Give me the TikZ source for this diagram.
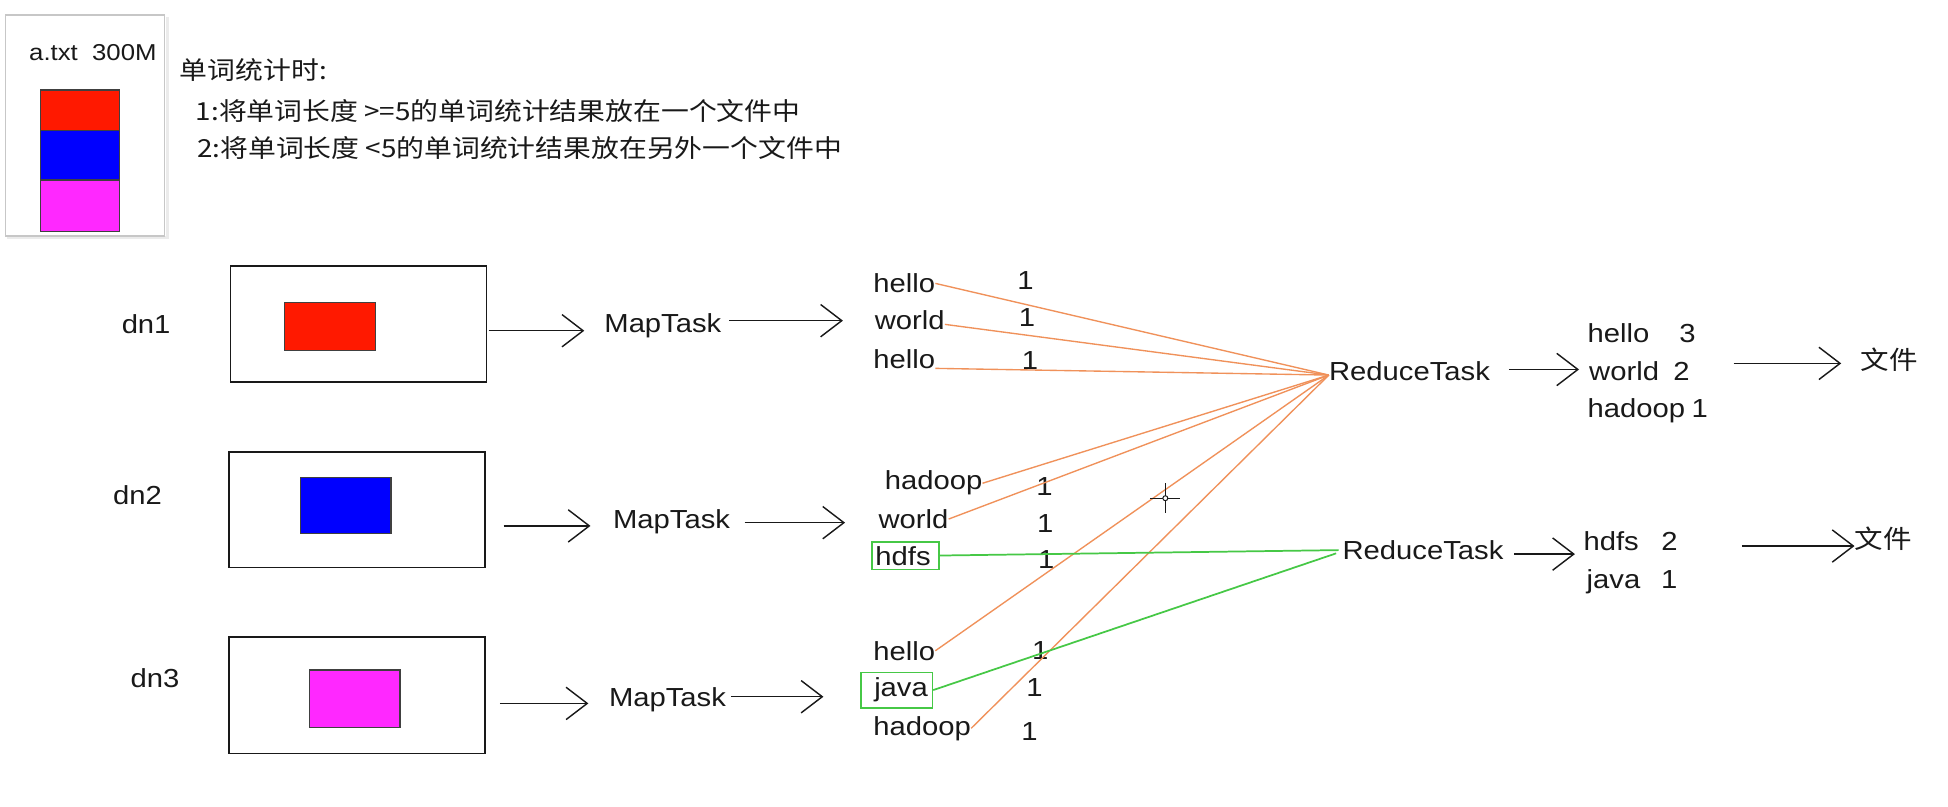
\documentclass[tikz,border=0pt]{standalone}
\usepackage{fontspec}
\setmainfont{Liberation Sans}[FakeStretch=1.12]
\newfontfamily\cjk{Noto Sans CJK SC}[FakeStretch=1.12]
\usetikzlibrary{arrows.meta}
\definecolor{ink}{RGB}{25,25,25}
\definecolor{org}{RGB}{240,145,90}
\definecolor{grn}{RGB}{70,200,70}
\definecolor{fred}{RGB}{255,25,0}
\definecolor{fblue}{RGB}{0,0,255}
\definecolor{fmag}{RGB}{255,40,255}
\begin{document}
\begin{tikzpicture}[x=1pt,y=-1pt,
  txt/.style={anchor=base west, inner sep=0pt, text=ink, font=\fontsize{21}{25}\selectfont},
  ctxt/.style={anchor=base west, inner sep=0pt, text=ink, font=\cjk\fontsize{20}{24}\selectfont},
  ftxt/.style={anchor=center, inner sep=0pt, text=ink, font=\cjk\fontsize{20.5}{24}\selectfont},
  dnbox/.style={draw=ink, line width=1.4pt, inner sep=0pt},
  blk/.style={draw=black!75, line width=0.9pt},
  arr/.style={draw=ink, line width=1.15pt, -{Straight Barb[length=17pt,width=26pt]}},
  oline/.style={draw=org, line width=1.1pt},
  gline/.style={draw=grn, line width=1.4pt},
  gbox/.style={draw=grn, line width=1.4pt, inner sep=0pt},
]
\useasboundingbox (0,0) rectangle (1568,649);
\fill[white] (0,0) rectangle (1568,649);

% file box
\draw[black!8, line width=2.5pt] (134.5,14) -- (134.5,191.5) -- (6,191.5);
\node[draw=black!22, line width=1pt, minimum width=128.1pt, minimum height=178pt, inner sep=0pt] (file) at (68.65,101) {};
\node[txt, font=\fontsize{18.5}{22}\selectfont] (fname) at (23.3,48.3) {a.txt\ \ 300M};
\filldraw[fill=fred, blk] (32.4,72.4) rectangle (96.1,105.2);
\filldraw[fill=fblue, blk] (32.4,105.2) rectangle (96.1,144.9);
\filldraw[fill=fmag, blk] (32.4,144.9) rectangle (96.1,186);

% description
\node[ctxt] (d0) at (144.6,64) {单词统计时:};
\node[ctxt] (d1) at (157.5,97) {1:将单词长度 >=5的单词统计结果放在一个文件中};
\node[ctxt] (d2) at (158.5,127) {2:将单词长度 <5的单词统计结果放在另外一个文件中};

% data nodes
\node[txt] (dn1) at (97.8,268.3) {dn1};
\node[txt] (dn2) at (90.8,405.7) {dn2};
\node[txt] (dn3) at (105,553.3) {dn3};

\node[dnbox, minimum width=206pt, minimum height=93.5pt] (b1) at (288.6,261) {};
\node[dnbox, minimum width=205.8pt, minimum height=93.1pt] (b2) at (287.3,410.2) {};
\node[dnbox, minimum width=205.8pt, minimum height=93.4pt] (b3) at (287.3,559.7) {};
\filldraw[fill=fred, blk] (229.3,243.6) rectangle (302.2,282.3);
\filldraw[fill=fblue, blk] (241.8,384.2) rectangle (314.7,429.3);
\filldraw[fill=fmag, blk] (249,539.3) rectangle (322,585.7);

% map tasks
\node[txt] (m1) at (486.3,267.8) {MapTask};
\node[txt] (m2) at (493.3,425.3) {MapTask};
\node[txt] (m3) at (490,568.8) {MapTask};

% words
\node[txt] (w11) at (702.8,235.6) {hello};
\node[txt] (n11) at (818.7,233.4) {1};
\node[txt] (w12) at (704,265.6) {world};
\node[txt] (n12) at (820,263) {1};
\node[txt] (w13) at (702.8,296.5) {hello};
\node[txt] (n13) at (822.4,297.3) {1};

\node[txt] (w21) at (712,394.4) {hadoop};
\node[txt] (n21) at (834,398.5) {1};
\node[txt] (w22) at (707,425.3) {world};
\node[txt] (n22) at (834.5,428.8) {1};
\node[txt] (w23) at (704.5,454.8) {hdfs};
\node[txt] (n23) at (835.5,457.5) {1};

\node[txt] (w31) at (702.8,531.3) {hello};
\node[txt] (n31) at (830.5,530.7) {1};
\node[txt] (w32) at (703.5,560.8) {java};
\node[txt] (n32) at (826,560.8) {1};
\node[txt] (w33) at (702.8,591.7) {hadoop};
\node[txt] (n33) at (822,595.7) {1};

\node[gbox, minimum width=54.2pt, minimum height=22.3pt] (hb) at (728.9,447.15) {};
\node[gbox, minimum width=57.7pt, minimum height=28.5pt] (jb) at (721.65,555.45) {};

% reduce tasks
\node[txt] (r1) at (1069.6,306.4) {ReduceTask};
\node[txt] (r2) at (1080.5,450.3) {ReduceTask};
\coordinate (c1) at ([yshift=-3pt]r1.west);
\coordinate (c2a) at ([xshift=-3pt]r2.west);
\coordinate (c2b) at ([xshift=-5pt,yshift=-2.6pt]r2.west);

% results
\node[txt] (o11) at (1277.7,275.8) {hello\hspace{24.1pt}3};
\node[txt] (o12) at (1279,305.9) {world\hspace{11.6pt}2};
\node[txt] (o13) at (1277.7,336.2) {hadoop\hspace{5.2pt}1};
\node[txt] (o21) at (1274.4,442.7) {hdfs\hspace{18.2pt}2};
\node[txt] (o22) at (1277,473.6) {java\hspace{16.8pt}1};

\node[ftxt] (f1) at (1520.9,289.8) {文件};
\node[ftxt] (f2) at (1515.9,434) {文件};
\coordinate (f1e) at ([xshift=-15.7pt,yshift=-2.7pt]f1.west);
\coordinate (f2e) at ([xshift=0pt,yshift=-5.5pt]f2.west);

% arrows
\draw[arr] ([xshift=1pt,yshift=1.6pt]b1.east |- m1.base) -- ([xshift=-16pt,yshift=1.6pt]m1.base west);
\draw[arr] ([xshift=6pt,yshift=9.7pt]m1.base east) -- ([xshift=-24.3pt,yshift=9.7pt]m1.base east -| w11.west);
\draw[arr] ([xshift=14.5pt,yshift=2pt]b2.east |- m2.base) -- ([xshift=-18pt,yshift=2pt]m2.base west);
\draw[arr] ([xshift=11.5pt,yshift=4.6pt]m2.base east) -- ([xshift=-26.8pt,yshift=4.6pt]m2.base east -| w22.west);
\draw[arr] ([xshift=11.5pt,yshift=2.6pt]b3.east |- m3.base) -- ([xshift=-16.4pt,yshift=2.6pt]m3.base west);
\draw[arr] ([xshift=3.8pt,yshift=8pt]m3.base east) -- ([xshift=-40.7pt,yshift=8pt]m3.base east -| w32.west);

\draw[arr] ([xshift=15pt,yshift=9pt]r1.base east) -- ([xshift=-6.7pt,yshift=9pt]r1.base east -| o11.west);
\draw[arr] ([xshift=8.5pt,yshift=4.3pt]r2.base east) -- ([xshift=-6.7pt,yshift=4.3pt]r2.base east -| o21.west);
\draw[arr] ([xshift=20.5pt]o13.east |- f1e) -- (f1e);
\draw[arr] ([xshift=51.6pt]o21.east |- f2e) -- (f2e);

% shuffle lines
\draw[oline] (w11.east) -- (c1);
\draw[oline] ([yshift=-3pt]w12.east) -- (c1);
\draw[oline] (w13.base east) -- (c1);
\draw[oline] (w21.east) -- (c1);
\draw[oline] (w22.east) -- (c1);
\draw[oline] (w31.east) -- (c1);
\draw[oline] (w33.east) -- (c1);
\draw[gline] (hb.east) -- (c2a);
\draw[gline] (jb.east) -- (c2b);

% cursor
\draw[ink, line width=1pt] (926,401) -- (950,401) (938,389) -- (938,413);
\draw[ink, fill=white, line width=0.8pt] (938,401) circle (2pt);
\end{tikzpicture}
\end{document}
